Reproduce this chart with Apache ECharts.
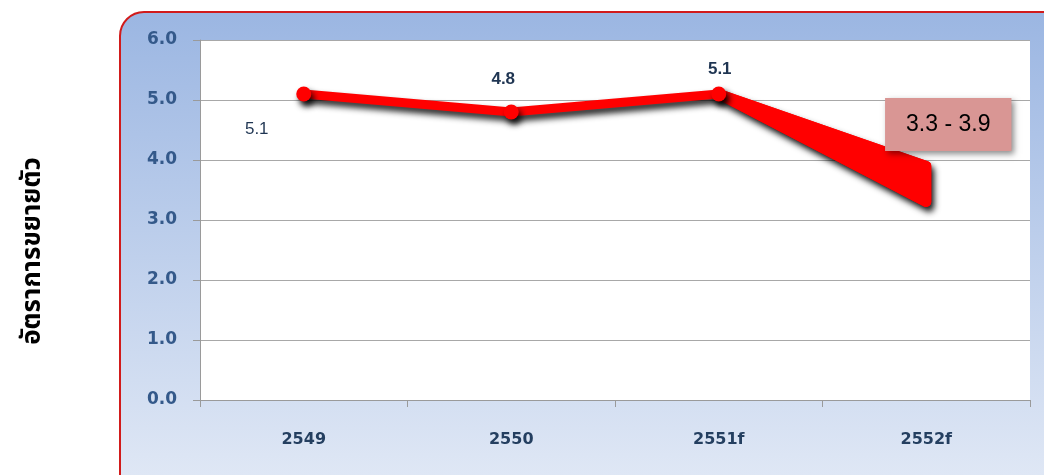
<!DOCTYPE html>
<html><head><meta charset="utf-8">
<script src="https://cdn.jsdelivr.net/npm/echarts@6/dist/echarts.min.js"></script>
<style>html,body{margin:0;padding:0;background:#fff}#c{width:1044px;height:475px}</style>
</head><body><div id="c"></div>
<script>
const categories = ['2549', '2550', '2551f', '2552f'];
const actual = [5.1, 4.8, 5.1, null];
const forecastLow = [null, null, 5.1, 3.3];
const forecastHigh = [null, null, 5.1, 3.9];
const yTicks = [0, 1, 2, 3, 4, 5, 6];
const yName = 'อัตราการขยายตัว';

const chart = echarts.init(document.getElementById('c'));
const red = '#ff0000';
const shadow = {shadowColor: 'rgba(0,0,0,0.85)', shadowBlur: 6, shadowOffsetX: 3, shadowOffsetY: 5};
const last = categories.length - 1;
const labelCfg = [
  {position: 'bottom', offset: [-47, 14], fontWeight: 'normal'},
  {position: 'top', offset: [-8, -12], fontWeight: 'bold'},
  {position: 'top', offset: [1, -4], fontWeight: 'bold'}
];
// wedge: from the last actual point to the forecast range
const wedge = [[last - 1, forecastHigh[last - 1], last, forecastLow[last], forecastHigh[last]]];

chart.setOption({
  animation: false,
  graphic: [{
    type: 'rect', z: -10, silent: true,
    shape: {x: 120, y: 12, width: 960, height: 490, r: 24},
    style: {
      fill: new echarts.graphic.LinearGradient(0, 0, 0, 1, [
        {offset: 0, color: '#9bb6e2'}, {offset: 1, color: '#e3eaf6'}
      ]),
      stroke: '#d11b1b', lineWidth: 2
    }
  }],
  grid: {left: 200, top: 40, right: 14, bottom: 75, show: true, backgroundColor: '#ffffff', borderWidth: 0},
  xAxis: {
    type: 'category', data: categories, boundaryGap: true,
    axisLine: {lineStyle: {color: '#9a9a9a', width: 1}},
    axisTick: {show: true, length: 7, lineStyle: {color: '#9a9a9a'}},
    axisLabel: {margin: 32, color: '#243f60', fontSize: 16, fontWeight: 'bold', fontFamily: '"DejaVu Sans", sans-serif'}
  },
  yAxis: {
    type: 'value', min: yTicks[0], max: yTicks[yTicks.length - 1], interval: 1,
    name: yName, nameLocation: 'middle', nameGap: 152,
    nameTextStyle: {color: '#000', fontSize: 26, fontWeight: 'bold', padding: [0, 62, 0, 0],
      fontFamily: 'Tahoma, "Noto Sans Thai", "Noto Sans", sans-serif'},
    axisLine: {show: true, lineStyle: {color: '#9a9a9a'}},
    axisTick: {show: true, length: 7, lineStyle: {color: '#9a9a9a'}},
    splitLine: {lineStyle: {color: '#a8a8a8', width: 1}},
    axisLabel: {margin: 23, color: '#34598a', fontSize: 17, fontWeight: 'bold', fontFamily: '"DejaVu Sans", sans-serif',
      formatter: v => v.toFixed(1)}
  },
  series: [
    {
      type: 'custom', z: 3, data: wedge,
      renderItem: (params, api) => {
        const p0 = api.coord([api.value(0), api.value(1)]);
        const p1 = api.coord([api.value(2), api.value(4)]);
        const p2 = api.coord([api.value(2), api.value(3)]);
        const base = {fill: red, stroke: red, lineWidth: 10, lineJoin: 'round'};
        return {
          type: 'group',
          children: [
            {type: 'polygon', shape: {points: [p0, p1, p2]}, style: Object.assign({}, base, shadow)},
            {type: 'polygon', shape: {points: [p0, p1, p2]}, style: base}
          ]
        };
      }
    },
    {
      type: 'scatter', z: 6,
      data: [{
        value: [last, forecastHigh[last]],
        label: {
          show: true, position: 'top', offset: [22, -10],
          formatter: () => forecastLow[last].toFixed(1) + ' - ' + forecastHigh[last].toFixed(1),
          backgroundColor: '#d99694', padding: [15, 21], color: '#000', opacity: 1, fontSize: 23, lineHeight: 23,
          fontFamily: 'Arial, "Liberation Sans", sans-serif',
          shadowColor: 'rgba(0,0,0,0.45)', shadowBlur: 6, shadowOffsetX: 3, shadowOffsetY: 3
        }
      }],
      symbolSize: 0.01, itemStyle: {color: red, opacity: 1}
    },
    {
      type: 'line', z: 5,
      data: actual.map((v, i) => v == null ? null : {
        value: v,
        label: Object.assign({show: true, color: '#1f3552', fontSize: 17, fontFamily: 'Arial, "Liberation Sans", sans-serif',
          formatter: p => p.value.toFixed(1)}, labelCfg[i])
      }),
      symbol: 'circle', symbolSize: 15,
      itemStyle: Object.assign({color: red}, shadow),
      lineStyle: Object.assign({color: red, width: 9, cap: 'round', join: 'round'}, shadow)
    }
  ]
});
</script></body></html>
